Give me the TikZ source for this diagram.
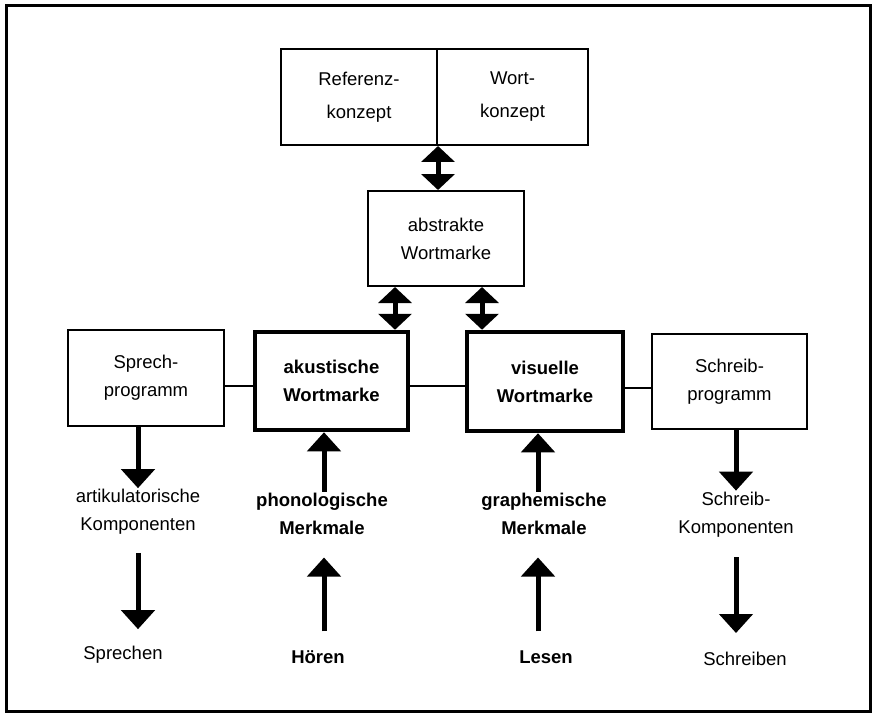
\documentclass[tikz,border=0pt]{standalone}
\usepackage{fontspec}
\setmainfont{Liberation Sans}
\usepackage{tikz}
\usetikzlibrary{arrows.meta}

\begin{document}
\begin{tikzpicture}[x=1pt,y=-1pt,
        box/.style={draw, line width=2pt, inner sep=0pt, align=center,
            font=\fontsize{18.5}{28}\selectfont},
        marke/.style={box, line width=4.5pt, font=\fontsize{18.5}{28}\selectfont\bfseries},
        txt/.style={inner sep=1pt, align=center, font=\fontsize{18.5}{28}\selectfont},
        txtb/.style={txt, font=\fontsize{18.5}{28}\selectfont\bfseries},
        pfeil/.style={line width=5pt, -{Triangle[width=33pt,length=19pt]}},
        doppel/.style={line width=5pt, {Triangle[width=33pt,length=16pt]}-{Triangle[width=33pt,length=16pt]}}]
        \useasboundingbox (0,0) rectangle (874,714);
        % Rahmen
        \draw[line width=3pt] (6,6) rectangle (870,711);
        
        % Konzepte oben
        \node[box, minimum width=156pt, minimum height=96pt, font=\fontsize{18.5}{33}\selectfont] (ref) at (359,97) {Referenz-\\konzept};
        \node[box, minimum width=151pt, minimum height=96pt, font=\fontsize{18.5}{33}\selectfont] (wort) at (512.5,97) {Wort-\\konzept};
        
        % abstrakte Wortmarke
        \node[box, minimum width=156pt, minimum height=95pt] (abs) at (446,238.5) {abstrakte\\Wortmarke};
        
        % mittlere Reihe
        \node[box, minimum width=156pt, minimum height=96pt] (sprech) at (146,378) {Sprech-\\programm};
        \node[marke, minimum width=153pt, minimum height=98pt] (akust) at (331.5,381) {akustische\\Wortmarke};
        \node[marke, minimum width=156pt, minimum height=99pt] (visu) at (545,381.5) {visuelle\\Wortmarke};
        \node[box, minimum width=155pt, minimum height=95pt] (schreib) at (729.5,381.5) {Schreib-\\programm};
        
        % Verbindungslinien
        \draw[line width=2pt] ([yshift=-8pt]sprech.east) -- ([yshift=-8pt]sprech.east -| akust.west);
        \draw[line width=2pt] ([yshift=-5pt]akust.east) -- ([yshift=-5pt]akust.east -| visu.west);
        \draw[line width=2pt] ([yshift=-6pt]visu.east) -- ([yshift=-6pt]visu.east -| schreib.west);
        
        % Doppelpfeile
        \draw[doppel] (ref.south east) -- (ref.south east |- abs.north);
        \draw[doppel] ([xshift=-51pt]abs.south) -- ([xshift=-51pt]abs.south |- akust.north);
        \draw[doppel] ([xshift=36pt]abs.south) -- ([xshift=36pt]abs.south |- visu.north);
        
        % Merkmale und Komponenten
        \node[txt] (artik) at (138,512) {artikulatorische\\Komponenten};
        \node[txtb] (phon) at (322,513.5) {phonologische\\Merkmale};
        \node[txtb] (graph) at (544,513.5) {graphemische\\Merkmale};
        \node[txt] (schrk) at (736,514.5) {Schreib-\\Komponenten};
        
        % Tätigkeiten unten
        \node[txt] (sprechen) at (123,655) {Sprechen};
        \node[txtb] (hoeren) at (318,657) {Hören};
        \node[txtb] (lesen) at (546,657) {Lesen};
        \node[txt] (schreiben) at (745,659) {Schreiben};
        
        % Pfeile obere Reihe
        \draw[pfeil] (sprech.south -| artik.north) -- (artik.north);
        \draw[pfeil] ([xshift=2pt]phon.north) -- ([xshift=2pt]phon.north |- akust.south);
        \draw[pfeil] ([xshift=-6pt]graph.north) -- ([xshift=-6pt]graph.north |- visu.south);
        \draw[pfeil] (schreib.south -| schrk.north) -- (schrk.north);
        
        % Pfeile untere Reihe
        \draw[pfeil, shorten <=17pt, shorten >=16pt] (artik.south) -- (artik.south |- sprechen.north);
        \draw[pfeil, shorten <=18pt, shorten >=22pt] ([xshift=2pt]phon.south |- hoeren.north) -- ([xshift=2pt]phon.south);
        \draw[pfeil, shorten <=18pt, shorten >=22pt] ([xshift=-6pt]graph.south |- lesen.north) -- ([xshift=-6pt]graph.south);
        \draw[pfeil, shorten <=19pt, shorten >=18pt] (schrk.south) -- (schrk.south |- schreiben.north);
    \end{tikzpicture}
\end{document}
